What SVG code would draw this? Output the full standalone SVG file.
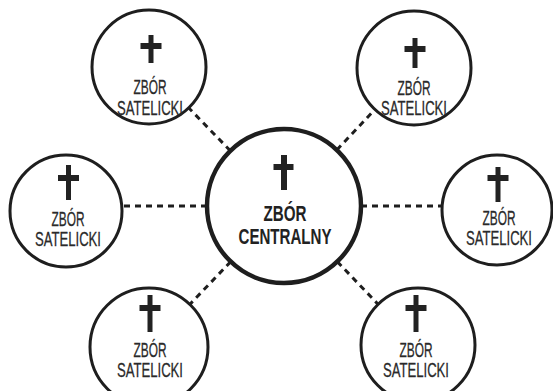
<svg xmlns="http://www.w3.org/2000/svg" width="553" height="391" viewBox="0 0 553 391">
<defs>
<style>
.c{fill:#fff;stroke:#1e1e1e;stroke-width:3}
.cc{fill:#fff;stroke:#1e1e1e;stroke-width:4.5}
.x{fill:#222}
.t{font-family:"Liberation Sans",Arial,sans-serif;font-size:21px;fill:#2a2a2a;stroke:#2a2a2a;stroke-width:0.3;text-anchor:middle}
.tb{font-family:"Liberation Sans",Arial,sans-serif;font-size:22px;font-weight:bold;fill:#222;text-anchor:middle}
.l{stroke:#1e1e1e;stroke-width:3;stroke-dasharray:6 5;fill:none}
</style>
</defs>
<rect width="553" height="391" fill="#fff"/>
<g id="connectors">
<line class="l" x1="284" y1="206" x2="149" y2="67"/>
<line class="l" x1="284" y1="206" x2="414" y2="68"/>
<line class="l" x1="284" y1="206" x2="66" y2="206"/>
<line class="l" x1="284" y1="206" x2="497" y2="206"/>
<line class="l" x1="284" y1="206" x2="149" y2="347"/>
<line class="l" x1="284" y1="206" x2="419" y2="347"/>
</g>
<g id="central">
<circle class="cc" cx="284" cy="206" r="77"/>
<rect class="x" x="281" y="155" width="6" height="35"/>
<rect class="x" x="273.5" y="164" width="20" height="6"/>
<text class="tb" x="285" y="221" textLength="43" lengthAdjust="spacingAndGlyphs">ZBÓR</text>
<text class="tb" x="285" y="244" textLength="93" lengthAdjust="spacingAndGlyphs">CENTRALNY</text>
</g>
<g id="sat-tl">
<circle class="c" cx="149" cy="67" r="57"/>
<rect class="x" x="148.5" y="35" width="5" height="28"/>
<rect class="x" x="140.5" y="43" width="21" height="6"/>
<text class="t" x="150" y="93.5" textLength="33" lengthAdjust="spacingAndGlyphs">ZBÓR</text>
<text class="t" x="150" y="114.5" textLength="66" lengthAdjust="spacingAndGlyphs">SATELICKI</text>
</g>
<g id="sat-tr">
<circle class="c" cx="414" cy="68" r="57"/>
<rect class="x" x="412.5" y="38" width="5" height="30"/>
<rect class="x" x="404.5" y="46" width="21" height="6"/>
<text class="t" x="414" y="94.5" textLength="33" lengthAdjust="spacingAndGlyphs">ZBÓR</text>
<text class="t" x="414" y="115" textLength="66" lengthAdjust="spacingAndGlyphs">SATELICKI</text>
</g>
<g id="sat-l">
<circle class="c" cx="66" cy="211" r="56"/>
<rect class="x" x="66" y="165" width="5" height="35"/>
<rect class="x" x="58" y="175" width="21" height="6"/>
<text class="t" x="68" y="226" textLength="33" lengthAdjust="spacingAndGlyphs">ZBÓR</text>
<text class="t" x="68" y="246" textLength="66" lengthAdjust="spacingAndGlyphs">SATELICKI</text>
</g>
<g id="sat-r">
<circle class="c" cx="497" cy="210" r="55"/>
<rect class="x" x="495.5" y="167" width="5" height="35"/>
<rect class="x" x="487.5" y="175" width="21" height="6"/>
<text class="t" x="499" y="225" textLength="33" lengthAdjust="spacingAndGlyphs">ZBÓR</text>
<text class="t" x="499" y="245" textLength="66" lengthAdjust="spacingAndGlyphs">SATELICKI</text>
</g>
<g id="sat-bl">
<circle class="c" cx="149" cy="347" r="59"/>
<rect class="x" x="147.5" y="295" width="5" height="37"/>
<rect class="x" x="139.5" y="305" width="21" height="6"/>
<text class="t" x="150" y="357" textLength="33" lengthAdjust="spacingAndGlyphs">ZBÓR</text>
<text class="t" x="150" y="377" textLength="66" lengthAdjust="spacingAndGlyphs">SATELICKI</text>
</g>
<g id="sat-br">
<circle class="c" cx="418" cy="345" r="57"/>
<rect class="x" x="413.5" y="295" width="5" height="37"/>
<rect class="x" x="405.5" y="305" width="21" height="6"/>
<text class="t" x="416" y="357" textLength="33" lengthAdjust="spacingAndGlyphs">ZBÓR</text>
<text class="t" x="416" y="377" textLength="66" lengthAdjust="spacingAndGlyphs">SATELICKI</text>
</g>
</svg>
